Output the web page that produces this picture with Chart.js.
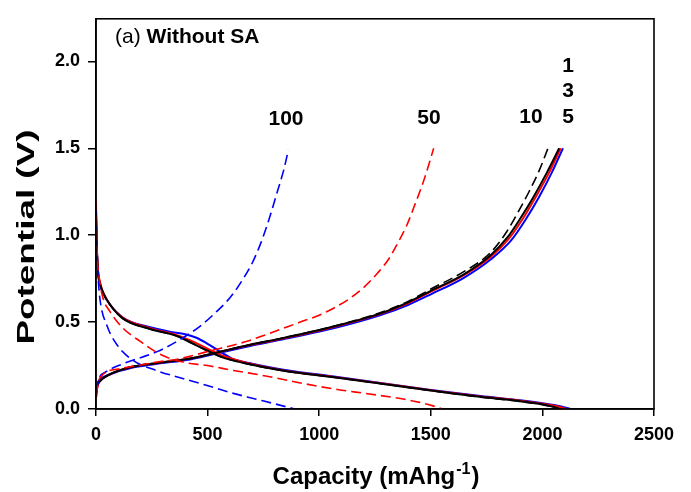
<!DOCTYPE html>
<html>
<head>
<meta charset="utf-8">
<script src="https://cdn.jsdelivr.net/npm/chart.js@4.4.1/dist/chart.umd.min.js"></script>
<style>
    html, body { margin: 0; padding: 0; background: #fff; }
    #wrap { width: 691px; height: 492px; }
</style>
</head>
<body>
<div id="wrap"><canvas id="capacityChart" width="691" height="492"></canvas></div>
<script>
// [capacity (mAh/g), potential (V)]
const dis1 = [[0,1.1],[3,0.95],[9,0.79],[20,0.71],[31,0.67],[63,0.6],[121,0.52],[242,0.46],[362,0.42],[436,0.375],[500,0.335],[560,0.3],[677,0.26],[840,0.22],[1082,0.18],[1275,0.146],[1500,0.107],[1723,0.07],[1900,0.045],[2000,0.027],[2050,0.012],[2080,0]];
const chg1 = [[0,0.07],[5,0.13],[18,0.16],[63,0.2],[152,0.24],[274,0.265],[422,0.29],[525,0.32],[690,0.37],[826,0.405],[1082,0.48],[1275,0.55],[1400,0.615],[1500,0.68],[1648,0.775],[1768,0.885],[1845,0.99],[1903,1.1],[1960,1.22],[2020,1.36],[2075,1.5]];

const dis3 = [[0,1.19],[3,0.97],[9,0.8],[20,0.72],[31,0.675],[63,0.6],[121,0.525],[242,0.465],[362,0.425],[440,0.385],[510,0.34],[570,0.305],[677,0.265],[840,0.222],[1082,0.182],[1275,0.148],[1500,0.108],[1723,0.072],[1900,0.048],[2000,0.03],[2070,0.014],[2110,0]];
const chg3 = [[0,0.06],[5,0.12],[18,0.16],[63,0.2],[152,0.24],[274,0.265],[422,0.29],[525,0.32],[690,0.368],[826,0.403],[1082,0.478],[1275,0.548],[1400,0.61],[1500,0.675],[1648,0.77],[1768,0.875],[1850,0.98],[1910,1.09],[1970,1.22],[2030,1.36],[2082,1.5]];

const dis5 = [[0,1.15],[3,0.96],[9,0.79],[20,0.71],[31,0.67],[63,0.6],[121,0.525],[242,0.47],[330,0.445],[400,0.43],[450,0.41],[500,0.375],[550,0.335],[610,0.29],[700,0.26],[840,0.226],[1082,0.184],[1275,0.15],[1500,0.11],[1723,0.075],[1900,0.05],[2000,0.033],[2080,0.016],[2125,0]];
const chg5 = [[0,0.09],[5,0.14],[18,0.17],[63,0.2],[152,0.235],[274,0.26],[422,0.285],[525,0.315],[690,0.363],[826,0.398],[1082,0.47],[1275,0.54],[1400,0.6],[1500,0.66],[1648,0.755],[1768,0.86],[1860,0.97],[1925,1.09],[1985,1.22],[2042,1.36],[2092,1.5]];

const dis10 = [[0,1.12],[3,0.95],[9,0.79],[20,0.71],[31,0.67],[63,0.6],[121,0.52],[242,0.46],[362,0.42],[436,0.375],[500,0.335],[560,0.3],[677,0.26],[840,0.22],[1082,0.18],[1275,0.146],[1500,0.106],[1723,0.068],[1900,0.043],[2000,0.025],[2045,0.01],[2070,0]];
const chg10 = [[0,0.08],[5,0.13],[18,0.16],[63,0.2],[152,0.24],[274,0.265],[422,0.29],[525,0.32],[690,0.37],[826,0.405],[1082,0.482],[1275,0.555],[1400,0.62],[1500,0.69],[1648,0.79],[1768,0.9],[1840,1.02],[1890,1.13],[1940,1.25],[1985,1.37],[2025,1.5]];

const dis50 = [[0,1.2],[5,0.9],[15,0.75],[31,0.64],[63,0.56],[121,0.465],[197,0.39],[287,0.315],[390,0.27],[498,0.25],[615,0.222],[760,0.19],[915,0.15],[1082,0.112],[1216,0.088],[1364,0.06],[1450,0.038],[1510,0.018],[1553,0]];
const chg50 = [[0,0.08],[18,0.18],[100,0.23],[274,0.27],[377,0.29],[498,0.33],[677,0.39],[767,0.43],[915,0.5],[1000,0.54],[1064,0.58],[1130,0.63],[1200,0.7],[1260,0.78],[1310,0.86],[1350,0.95],[1390,1.05],[1430,1.18],[1470,1.32],[1513,1.5]];

const dis100 = [[0,1.17],[5,0.9],[10,0.75],[18,0.63],[49,0.48],[94,0.37],[166,0.28],[274,0.22],[377,0.18],[498,0.135],[615,0.09],[700,0.062],[800,0.03],[890,0]];
const chg100 = [[0,0.1],[15,0.18],[40,0.21],[121,0.26],[274,0.33],[390,0.41],[470,0.48],[540,0.56],[600,0.64],[650,0.73],[700,0.84],[740,0.96],[775,1.09],[810,1.24],[840,1.37],[862,1.49]];

const xTicks = [0, 500, 1000, 1500, 2000, 2500];
const yTicks = [0, 0.5, 1.0, 1.5, 2.0];
const cycleLabels = ['100', '50', '10', '1', '3', '5'];

const FONT = "'Liberation Sans', Arial, sans-serif";

function curve(points, color, dashed) {
    return {
        data: points.map(p => ({ x: p[0], y: p[1] })),
        showLine: true,
        borderColor: color,
        borderWidth: dashed ? 1.6 : 2,
        borderDash: dashed ? [10, 5] : [],
        pointRadius: 0,
        cubicInterpolationMode: 'monotone',
        fill: false
    };
}

// Box round the plot, axis titles and the in-plot notes
const decorations = {
    id: 'decorations',
    afterDraw(chart) {
        const ctx = chart.ctx;
        const a = chart.chartArea;
        ctx.save();
        ctx.strokeStyle = '#000';
        ctx.lineWidth = 1.6;
        ctx.strokeRect(a.left, a.top, a.right - a.left, a.bottom - a.top);

        ctx.fillStyle = '#000';
        ctx.textBaseline = 'alphabetic';

        // x title with superscript
        const base = 'Capacity (mAhg';
        ctx.font = 'bold 24px ' + FONT;
        const w1 = ctx.measureText(base).width;
        ctx.font = 'bold 16px ' + FONT;
        const w2 = ctx.measureText('-1').width;
        ctx.font = 'bold 24px ' + FONT;
        const w3 = ctx.measureText(')').width;
        let x = (a.left + a.right) / 2 - (w1 + w2 + w3) / 2;
        const yb = 484;
        ctx.textAlign = 'left';
        ctx.fillText(base, x, yb);
        ctx.font = 'bold 16px ' + FONT;
        ctx.fillText('-1', x + w1 + 1, yb - 10);
        ctx.font = 'bold 24px ' + FONT;
        ctx.fillText(')', x + w1 + w2 + 2, yb);

        // y title, stretched along its length like the original
        ctx.save();
        ctx.translate(34, 237);
        ctx.rotate(-Math.PI / 2);
        ctx.font = 'bold 24px ' + FONT;
        const wy = ctx.measureText('Potential (V)').width;
        ctx.scale(215 / wy, 1);
        ctx.textAlign = 'center';
        ctx.fillText('Potential (V)', 0, 0);
        ctx.restore();

        // panel label
        ctx.textAlign = 'left';
        ctx.font = '21px ' + FONT;
        ctx.fillText('(a)', 115, 43);
        const wa = ctx.measureText('(a) ').width;
        ctx.font = 'bold 21px ' + FONT;
        ctx.fillText('Without SA', 115 + wa, 43);

        // cycle numbers
        ctx.textAlign = 'center';
        ctx.fillText(cycleLabels[0], 286, 125);
        ctx.fillText(cycleLabels[1], 429, 124);
        ctx.fillText(cycleLabels[2], 531, 123);
        ctx.fillText(cycleLabels[3], 568, 72);
        ctx.fillText(cycleLabels[4], 568, 97);
        ctx.fillText(cycleLabels[5], 568, 123);
        ctx.restore();
    }
};

const ctx = document.getElementById('capacityChart').getContext('2d');
new Chart(ctx, {
    type: 'scatter',
    data: {
        datasets: [
            curve(dis50, 'rgb(255,0,0)', true),
            curve(chg50, 'rgb(255,0,0)', true),
            curve(dis100, 'rgb(0,0,255)', true),
            curve(chg100, 'rgb(0,0,255)', true),
            curve(dis10, '#000', true),
            curve(chg10, '#000', true),
            curve(dis1, '#000', false),
            curve(chg1, '#000', false),
            curve(dis3, 'rgb(255,0,0)', false),
            curve(chg3, 'rgb(255,0,0)', false),
            curve(dis5, 'rgb(0,0,255)', false),
            curve(chg5, 'rgb(0,0,255)', false)
        ]
    },
    options: {
        responsive: false,
        animation: false,
        layout: { padding: { left: 0, top: 10, right: 37, bottom: 0 } },
        plugins: {
            legend: { display: false },
            tooltip: { enabled: false }
        },
        scales: {
            x: {
                type: 'linear',
                min: xTicks[0],
                max: xTicks[xTicks.length - 1],
                afterBuildTicks: s => { s.ticks = xTicks.map(v => ({ value: v })); },
                afterFit: s => { s.height = 83; },
                border: { color: '#000', width: 1.6 },
                grid: { drawOnChartArea: false, drawTicks: true, tickLength: 7, color: '#000', lineWidth: 1.5 },
                ticks: {
                    color: '#000',
                    padding: 8,
                    maxRotation: 0,
                    font: { family: FONT, size: 18, weight: 'bold' },
                    callback: v => String(v)
                }
            },
            y: {
                type: 'linear',
                min: 0,
                max: 2.245,
                afterBuildTicks: s => { s.ticks = yTicks.map(v => ({ value: v })); },
                afterFit: s => { s.width = 96; },
                border: { color: '#000', width: 1.6 },
                grid: { drawOnChartArea: false, drawTicks: true, tickLength: 8, color: '#000', lineWidth: 1.5 },
                ticks: {
                    color: '#000',
                    padding: 8,
                    font: { family: FONT, size: 18, weight: 'bold' },
                    callback: v => v.toFixed(1)
                }
            }
        }
    },
    plugins: [decorations]
});
</script>
</body>
</html>
